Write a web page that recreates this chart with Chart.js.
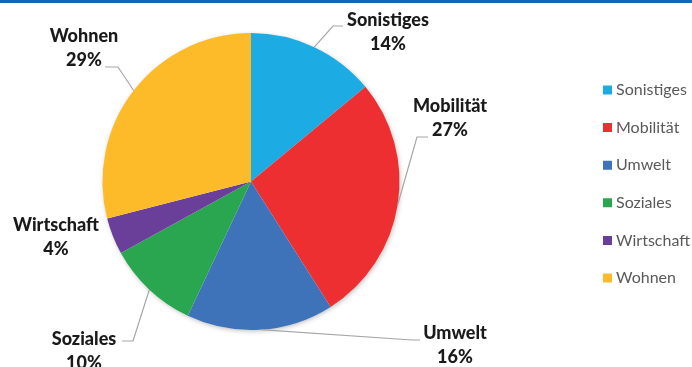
<!DOCTYPE html>
<html><head><meta charset="utf-8">
<script src="https://cdn.jsdelivr.net/npm/chart.js@4.4.0/dist/chart.umd.min.js"></script>
<style>
html,body{margin:0;padding:0;background:#fff;}
#wrap{position:relative;width:692px;height:367px;overflow:hidden;}
#bar{position:absolute;left:0;top:0;width:692px;height:3px;background:#1767b3;}
canvas{display:block;}
</style>
</head><body>
<div id="wrap"><canvas id="c" width="692" height="367"></canvas><div id="bar"></div></div>
<script>
const categories = ['Sonistiges', 'Mobilität', 'Umwelt', 'Soziales', 'Wirtschaft', 'Wohnen'];
const shares = [14, 27, 16, 10, 4, 29];
const colors = ['#1cabe2', '#ee2f31', '#3e73b9', '#2aa650', '#6a3f99', '#fdbb2a'];

// callout layout: text centre and leader elbow points, as offsets from the pie centre
const labelLayout = [
  { tx: 137, ty: -161.5, leader: [[82, -155.5], [92, -155.5]] },
  { tx: 199, ty: -75.5, leader: [[166, -44.5], [177, -44.5]] },
  { tx: 204, ty: 151.5, leader: [[161, 158.5], [169, 158.5]] },
  { tx: -167, ty: 157.5, leader: [[-118, 159.5], [-129, 159.5]] },
  { tx: -195, ty: 43.5, leader: null },
  { tx: -167, ty: -145.5, leader: [[-133, -114.5], [-146, -114.5]] }
];
const pieCentreX = 251;

// widen the plot area to the left so the pie sits where the reference has it
const areaPlugin = {
  id: 'areaShift',
  afterLayout(chart) {
    const a = chart.chartArea;
    a.left = 2 * pieCentreX - a.right;
    a.width = a.right - a.left;
  }
};

const shadowPlugin = {
  id: 'pieShadow',
  beforeDatasetsDraw(chart) {
    const arc = chart.getDatasetMeta(0).data[0];
    if (!arc) return;
    const ctx = chart.ctx;
    ctx.save();
    ctx.shadowColor = 'rgba(0,0,0,0.28)';
    ctx.shadowBlur = 5;
    ctx.shadowOffsetX = 1;
    ctx.shadowOffsetY = 1.5;
    ctx.fillStyle = '#ffffff';
    ctx.beginPath();
    ctx.arc(arc.x, arc.y, arc.outerRadius - 0.5, 0, Math.PI * 2);
    ctx.fill();
    ctx.restore();
  }
};

const calloutPlugin = {
  id: 'callouts',
  afterDatasetsDraw(chart) {
    const ctx = chart.ctx;
    const meta = chart.getDatasetMeta(0);
    meta.data.forEach((arc, i) => {
      const L = labelLayout[i];
      const p = arc.getProps(['x', 'y', 'outerRadius', 'startAngle', 'endAngle'], true);
      const mid = (p.startAngle + p.endAngle) / 2;
      const px = p.x + p.outerRadius * Math.cos(mid);
      const py = p.y + p.outerRadius * Math.sin(mid);
      ctx.save();
      if (L.leader) {
        ctx.strokeStyle = '#a6a6a6';
        ctx.lineWidth = 1.2;
        ctx.beginPath();
        ctx.moveTo(px, py);
        L.leader.forEach(([dx, dy]) => ctx.lineTo(p.x + dx, p.y + dy));
        ctx.stroke();
      }
      ctx.fillStyle = '#1a1a1a';
      ctx.font = '900 18px Lato';
      ctx.textAlign = 'center';
      ctx.textBaseline = 'middle';
      ctx.fillText(categories[i], p.x + L.tx, p.y + L.ty);
      ctx.fillText(shares[i] + '%', p.x + L.tx, p.y + L.ty + 24.5);
      ctx.restore();
    });
  }
};

new Chart(document.getElementById('c'), {
  type: 'pie',
  data: {
    labels: categories,
    datasets: [{
      data: shares,
      backgroundColor: colors,
      borderWidth: 0
    }]
  },
  options: {
    responsive: false,
    animation: false,
    devicePixelRatio: 1,
    layout: { padding: { top: 33, bottom: 37, left: 0, right: 0 } },
    plugins: {
      tooltip: { enabled: false },
      legend: {
        position: 'right',
        maxWidth: 106.6,
        title: { display: true, text: '', font: { size: 4, lineHeight: 1.25 }, padding: 0 },
        labels: {
          usePointStyle: true,
          pointStyle: 'rect',
          boxWidth: 1,
          boxHeight: 9,
          padding: 21.6,
          color: '#595959',
          font: { family: 'Lato', size: 16 }
        }
      }
    }
  },
  plugins: [areaPlugin, shadowPlugin, calloutPlugin]
});
</script>
</body></html>
